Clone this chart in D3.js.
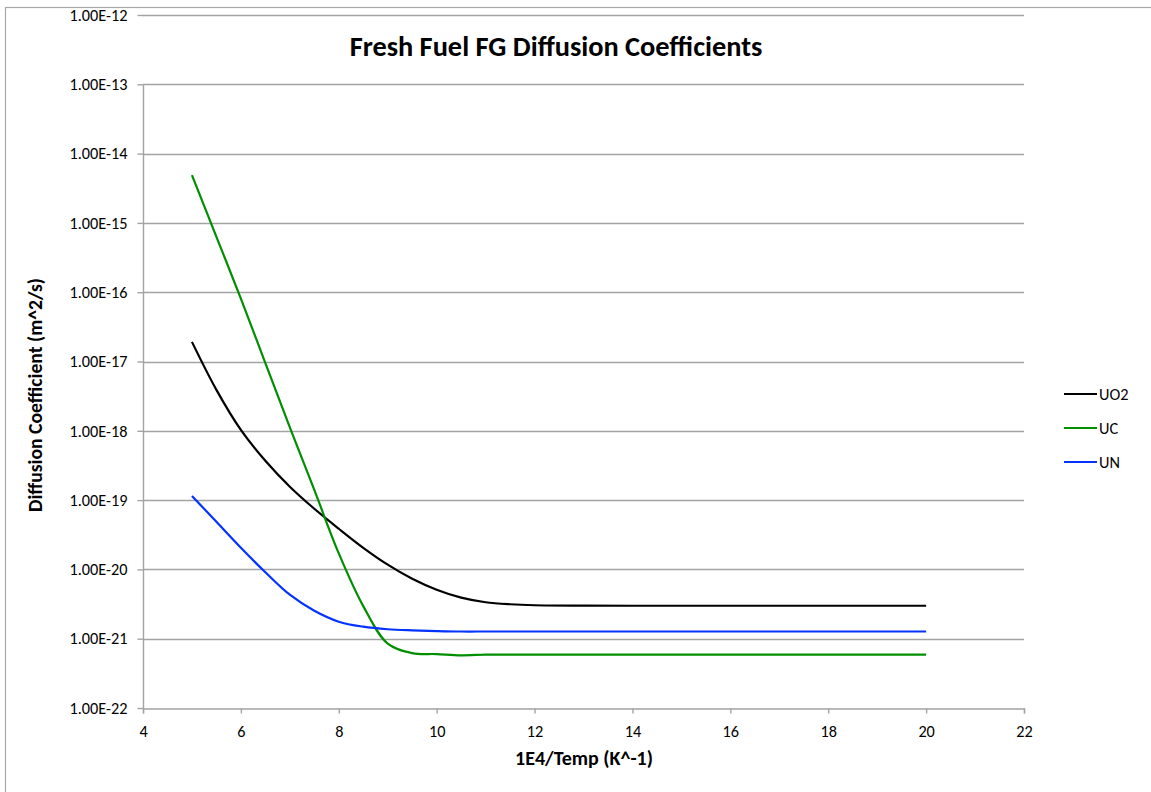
<!DOCTYPE html>
<html>
<head>
<meta charset="utf-8">
<script src="https://cdn.jsdelivr.net/npm/d3@7"></script>
<style>
  html, body { margin: 0; padding: 0; background: #fff; }
  svg { display: block; }
  text { font-family: Carlito, Calibri, "Liberation Sans", Arial, sans-serif; fill: #000; }
</style>
</head>
<body>
<script>
// Inverse temperature, 1E4/T (K^-1)
const invTemp = [5, 5.5, 6, 6.5, 7, 7.5, 8, 8.5, 9, 9.5, 10, 10.5, 11, 11.5, 12, 13, 14, 15, 16, 17, 18, 19, 20];

// Fission-gas diffusion coefficients (m^2/s) for each fuel type
const dUO2 = [1.92e-17, 3.9e-18, 1.03e-18, 3.69e-19, 1.56e-19, 7.5e-20, 3.86e-20, 2.05e-20, 1.17e-20, 7.33e-21, 5.09e-21, 3.91e-21, 3.36e-21, 3.14e-21, 3.04e-21, 3.0e-21, 2.99e-21, 2.99e-21, 2.99e-21, 2.99e-21, 2.99e-21, 2.99e-21, 2.99e-21];
const dUC  = [4.9e-15, 6.3e-16, 8.1e-17, 9.5e-18, 1.12e-18, 1.4e-19, 1.7e-20, 2.95e-21, 8.5e-22, 6.2e-22, 6.0e-22, 5.75e-22, 5.9e-22, 5.9e-22, 5.9e-22, 5.9e-22, 5.9e-22, 5.9e-22, 5.9e-22, 5.9e-22, 5.9e-22, 5.9e-22, 5.9e-22];
const dUN  = [1.15e-19, 4.86e-20, 2.05e-20, 9.1e-21, 4.31e-21, 2.53e-21, 1.76e-21, 1.49e-21, 1.37e-21, 1.32e-21, 1.29e-21, 1.27e-21, 1.27e-21, 1.27e-21, 1.27e-21, 1.27e-21, 1.27e-21, 1.27e-21, 1.27e-21, 1.27e-21, 1.27e-21, 1.27e-21, 1.27e-21];

const seriesNames = ["UO2", "UC", "UN"];
const seriesColors = ["#000000", "#008f00", "#0432ff"];

const xTicks = [4, 6, 8, 10, 12, 14, 16, 18, 20, 22];
const yTicks = [1e-22, 1e-21, 1e-20, 1e-19, 1e-18, 1e-17, 1e-16, 1e-15, 1e-14, 1e-13, 1e-12];

const titleText = "Fresh Fuel FG Diffusion Coefficients";
const xTitle = "1E4/Temp (K^-1)";
const yTitle = "Diffusion Coefficient (m^2/s)";

const W = 1151, H = 792;
const plot = { left: 143, right: 1024, top: 15, bottom: 708 };
const fontStack = 'Carlito, Calibri, "Liberation Sans", Arial, sans-serif';

const svg = d3.select("body").append("svg").attr("width", W).attr("height", H);

// size a text element so that it spans the given width
function fitWidth(sel, width, start) {
  sel.attr("font-size", start);
  const w = sel.node().getComputedTextLength();
  const size = start * width / w;
  sel.attr("font-size", size);
  return size;
}

// outer chart frame
svg.append("rect")
  .attr("x", 5.5).attr("y", 7.5)
  .attr("width", W + 20).attr("height", H + 20)
  .attr("fill", "none").attr("stroke", "#a8a8a8").attr("stroke-width", 1.2);

const x = d3.scaleLinear().domain([4, 22]).range([plot.left, plot.right]);
const y = d3.scaleLog().domain([1e-22, 1e-12]).range([plot.bottom, plot.top]);

const sci = v => {
  const e = Math.round(Math.log10(v));
  return "1.00E" + (e < 0 ? "-" : "+") + String(Math.abs(e)).padStart(2, "0");
};

const gridColor = "#a3a3a3";

// tick label size, taken from the width of a y label
const probe = svg.append("text").style("font-family", fontStack).text(sci(1e-12));
const tickSize = fitWidth(probe, 58, 16);
probe.remove();

// horizontal gridlines
svg.append("g").selectAll("line").data(yTicks.filter(t => t > 1e-22)).join("line")
  .attr("x1", plot.left).attr("x2", plot.right)
  .attr("y1", d => Math.round(y(d)) + 0.5).attr("y2", d => Math.round(y(d)) + 0.5)
  .attr("stroke", gridColor).attr("stroke-width", 1.4);

// y axis: ticks, labels, and a spine running up to the 1E-13 line
const yAxis = d3.axisLeft(y).tickValues(yTicks).tickFormat(sci).tickSize(6).tickPadding(10);
const gy = svg.append("g").attr("transform", `translate(${plot.left + 0.5},0)`).call(yAxis);
gy.select(".domain").attr("d", `M0,${y(1e-13)}V${y(1e-22)}`).attr("stroke", gridColor).attr("stroke-width", 1.4);
gy.selectAll(".tick line").attr("stroke", gridColor).attr("stroke-width", 1.4);
gy.selectAll(".tick text").attr("font-size", tickSize).attr("fill", "#000").style("font-family", fontStack);

// x axis
const xAxis = d3.axisBottom(x).tickValues(xTicks).tickFormat(d3.format("d")).tickSize(5).tickPadding(12);
const gx = svg.append("g").attr("transform", `translate(0,${Math.round(y(1e-22)) + 0.5})`).call(xAxis);
gx.select(".domain").attr("stroke", gridColor).attr("stroke-width", 1.4);
gx.selectAll(".tick line").attr("stroke", gridColor).attr("stroke-width", 1.4);
gx.selectAll(".tick text").attr("font-size", tickSize).attr("fill", "#000").style("font-family", fontStack);

// data series
const seriesData = [dUO2, dUC, dUN];
const line = d3.line()
  .x((d, i) => x(invTemp[i]))
  .y(d => y(d))
  .curve(d3.curveCatmullRom.alpha(0.5));

svg.append("g").selectAll("path").data(seriesData).join("path")
  .attr("d", d => line(d))
  .attr("fill", "none")
  .attr("stroke", (d, i) => seriesColors[i])
  .attr("stroke-width", 2.2)
  .attr("stroke-linejoin", "round");

// legend
const legend = svg.append("g").attr("transform", "translate(1064,394)");
seriesNames.forEach((name, i) => {
  const g = legend.append("g").attr("transform", `translate(0,${i * 34})`);
  g.append("line").attr("x1", 0).attr("x2", 33).attr("y1", 0).attr("y2", 0)
    .attr("stroke", seriesColors[i]).attr("stroke-width", 2.2);
  g.append("text").attr("x", 35).attr("y", 0).attr("dy", "0.34em")
    .attr("font-size", tickSize).text(name);
});

// titles
const t = svg.append("text").attr("x", 556).attr("y", 56).attr("text-anchor", "middle")
  .attr("font-weight", "bold").text(titleText);
fitWidth(t, 413, 28);

const xt = svg.append("text").attr("x", 584).attr("y", 765).attr("text-anchor", "middle")
  .attr("font-weight", "bold").text(xTitle);
fitWidth(xt, 138, 19);

const yt = svg.append("text").attr("transform", "translate(42,395) rotate(-90)")
  .attr("text-anchor", "middle")
  .attr("font-weight", "bold").text(yTitle);
fitWidth(yt, 234, 18);
</script>
</body>
</html>
